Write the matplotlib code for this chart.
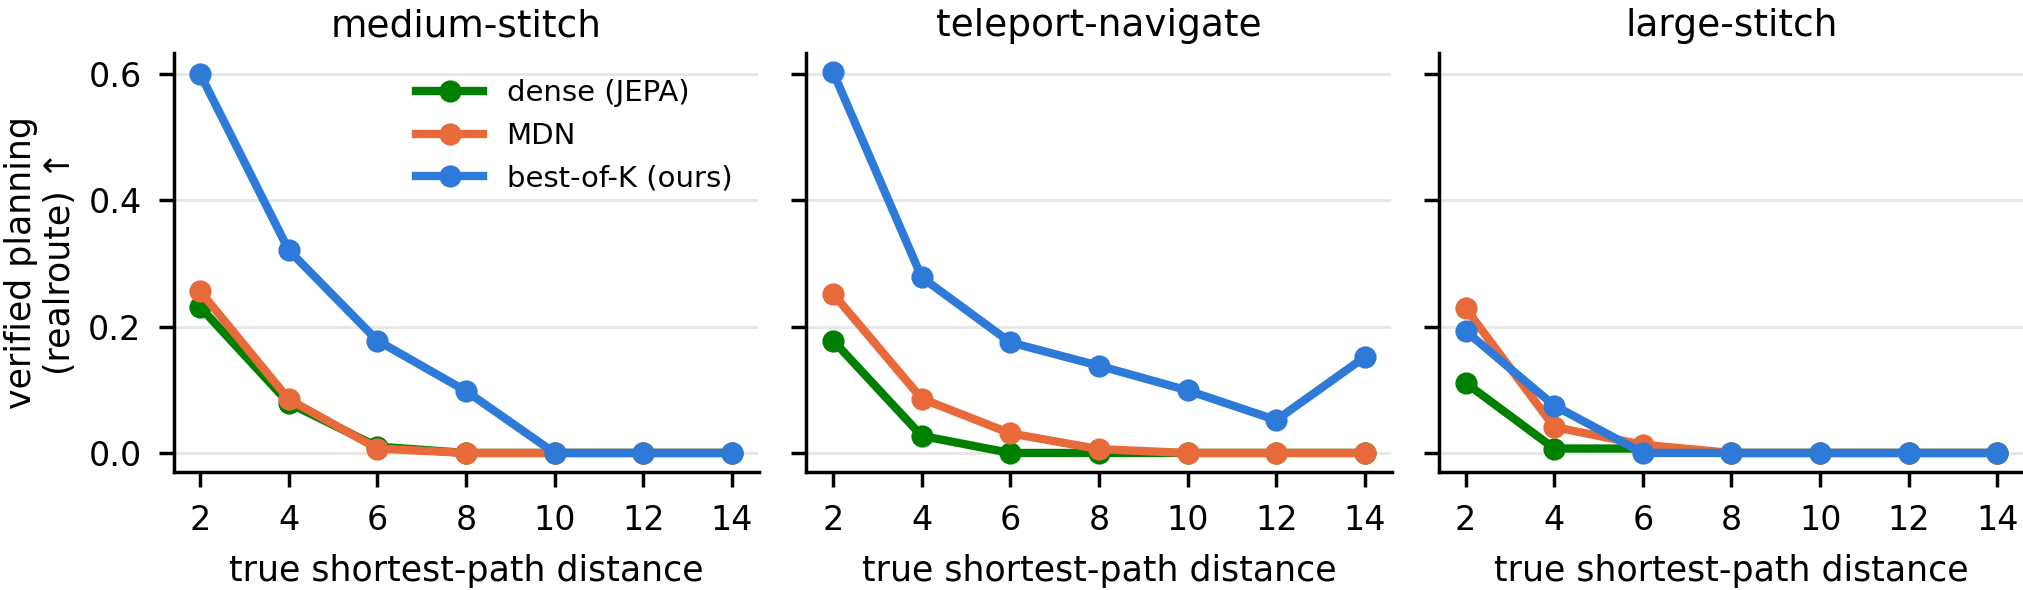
import matplotlib
matplotlib.use("Agg")
import matplotlib.pyplot as plt

distances = [2, 4, 6, 8, 10, 12, 14]
panel_titles = ["medium-stitch", "teleport-navigate", "large-stitch"]
series_labels = ["dense (JEPA)", "MDN", "best-of-K (ours)"]
series_colors = ["#008000", "#E8693A", "#2E7AD9"]

medium_dense = [0.231, 0.079, 0.010, 0.000, 0.000, 0.000, 0.000]
medium_mdn = [0.256, 0.085, 0.007, 0.000, 0.000, 0.000, 0.000]
medium_best = [0.600, 0.321, 0.178, 0.098, 0.000, 0.000, 0.000]

teleport_dense = [0.178, 0.027, 0.000, 0.000, 0.000, 0.000, 0.000]
teleport_mdn = [0.252, 0.086, 0.031, 0.006, 0.000, 0.000, 0.000]
teleport_best = [0.603, 0.278, 0.175, 0.138, 0.099, 0.052, 0.152]

large_dense = [0.111, 0.007, 0.007, 0.000, 0.000, 0.000, 0.000]
large_mdn = [0.229, 0.041, 0.013, 0.000, 0.000, 0.000, 0.000]
large_best = [0.193, 0.075, 0.000, 0.000, 0.000, 0.000, 0.000]

panels = [
    [medium_dense, medium_mdn, medium_best],
    [teleport_dense, teleport_mdn, teleport_best],
    [large_dense, large_mdn, large_best],
]

W, H = 2024, 590
dpi = 200
fig = plt.figure(figsize=(W / dpi, H / dpi), dpi=dpi)

ax_w = 585 / W
ax_h = 419 / H
bottom = 118 / H
lefts = [173.5 / W, 806.5 / W, 1439 / W]

axes = []
for i, left in enumerate(lefts):
    if i == 0:
        ax = fig.add_axes([left, bottom, ax_w, ax_h])
    else:
        ax = fig.add_axes([left, bottom, ax_w, ax_h], sharey=axes[0])
    axes.append(ax)

for i, ax in enumerate(axes):
    for vals, lab, col in zip(panels[i], series_labels, series_colors):
        ax.plot(distances, vals, marker="o", color=col, label=lab,
                linewidth=3.0, markersize=7, zorder=3)
    ax.set_title(panel_titles[i], fontsize=13.5, pad=6)
    ax.set_xlabel("true shortest-path distance", fontsize=12.5, labelpad=6)
    ax.set_xticks(distances)
    ax.set_yticks([0.0, 0.2, 0.4, 0.6])
    ax.yaxis.grid(True, color="#e6e6e6", linewidth=1.0, zorder=0)
    ax.set_axisbelow(True)
    for s in ["top", "right"]:
        ax.spines[s].set_visible(False)
    for s in ["left", "bottom"]:
        ax.spines[s].set_linewidth(1.25)
    ax.tick_params(axis="both", labelsize=12, length=5.5, width=1.25, pad=6)
    if i > 0:
        ax.tick_params(axis="y", labelleft=False)

axes[0].set_ylabel("verified planning\n(realroute) \u2191", fontsize=12.5, labelpad=4)
axes[0].legend(loc="upper right", frameon=False, fontsize=10.5, handlelength=2.3)

fig.savefig("out.png", dpi=dpi)
